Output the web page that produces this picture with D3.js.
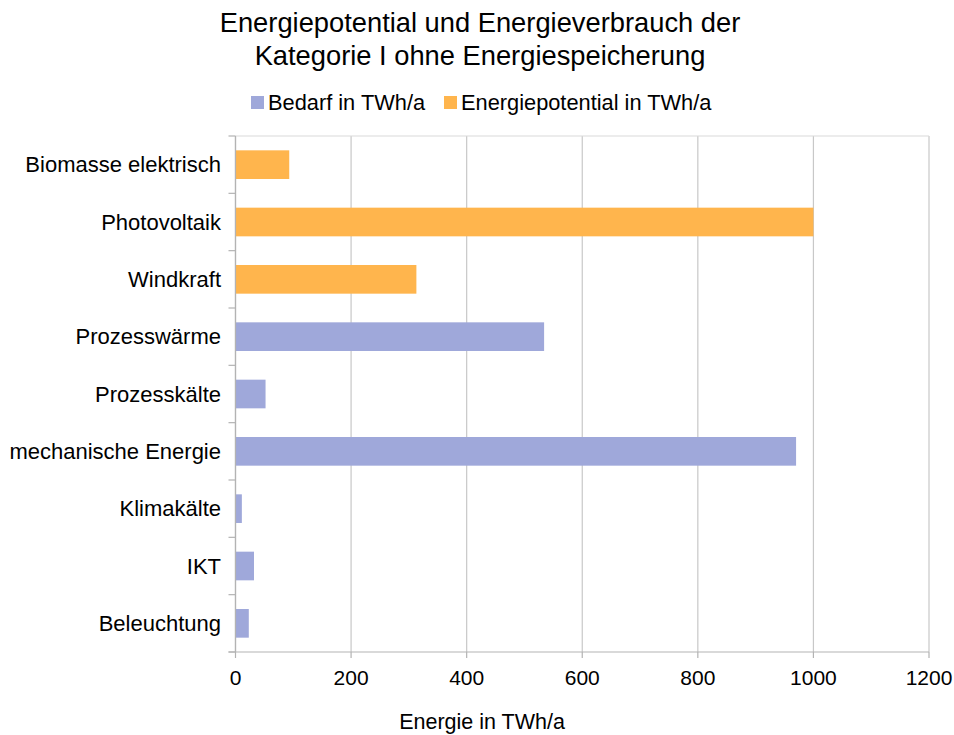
<!DOCTYPE html>
<html><head><meta charset="utf-8">
<script src="https://cdn.jsdelivr.net/npm/d3@7"></script>
<style>body{margin:0;background:#fff;} text{font-family:"Liberation Sans",Arial,sans-serif;fill:#000;}</style>
</head><body>
<svg id="c" width="954" height="735"></svg>
<script>
const categories = ["Biomasse elektrisch","Photovoltaik","Windkraft","Prozesswärme","Prozesskälte","mechanische Energie","Klimakälte","IKT","Beleuchtung"];
const bedarf = [0,0,0,534,52,970,11,32,23];
const potential = [93,1000,313,0,0,0,0,0,0];
const seriesNames = ["Bedarf in TWh/a","Energiepotential in TWh/a"];
const seriesColors = ["#9fa8da","#ffb54d"];
const xTicks = [0,200,400,600,800,1000,1200];
const titleLines = ["Energiepotential und Energieverbrauch der","Kategorie I ohne Energiespeicherung"];
const xTitle = "Energie in TWh/a";

const svg = d3.select("#c");
const m = {l:235.5, r:929, t:136, b:652};
const x = d3.scaleLinear().domain([0,1200]).range([m.l,m.r]);
const y = d3.scaleBand().domain(categories).range([m.t,m.b]).paddingInner(0.5).paddingOuter(0.25);
const band = d3.scaleBand().domain(categories).range([m.t,m.b]);

// title
svg.selectAll(".title").data(titleLines).join("text")
  .attr("x",480).attr("y",(d,i)=>32+i*33).attr("text-anchor","middle")
  .style("font-size","27.3px").text(d=>d);

// gridlines
svg.append("g").selectAll("line").data(xTicks).join("line")
  .attr("x1",d=>x(d)).attr("x2",d=>x(d)).attr("y1",m.t).attr("y2",m.b)
  .attr("stroke",(d,i)=>i===0?"#b3b3b3":"#c8c8c8").attr("stroke-width",1.2);
svg.append("line").attr("x1",m.l).attr("x2",m.r).attr("y1",m.t).attr("y2",m.t).attr("stroke","#d9d9d9").attr("stroke-width",1.2);

// bars
const data = categories.map((c,i)=>({c, vals:[bedarf[i],potential[i]]}));
data.forEach(d=>{
  let acc=0;
  d.vals.forEach((v,s)=>{
    if(v>0){
      svg.append("rect").attr("x",x(acc)).attr("width",x(acc+v)-x(acc))
        .attr("y",y(d.c)).attr("height",y.bandwidth()).attr("fill",seriesColors[s]);
    }
    acc+=v;
  });
});

// y axis
const ya = svg.append("g");
ya.append("line").attr("x1",m.l).attr("x2",m.l).attr("y1",m.t).attr("y2",m.b).attr("stroke","#b3b3b3").attr("stroke-width",1.2);
const bounds = categories.map(c=>band(c)).concat([m.b]);
ya.selectAll(".tk").data(bounds).join("line").attr("x1",m.l-7).attr("x2",m.l).attr("y1",d=>d).attr("y2",d=>d).attr("stroke","#b3b3b3").attr("stroke-width",1.2);
ya.selectAll("text").data(categories).join("text")
  .attr("x",221).attr("y",d=>band(d)+band.bandwidth()/2).attr("dy","0.35em")
  .attr("text-anchor","end").style("font-size","22px").text(d=>d);

// x axis
const xa = svg.append("g");
xa.append("line").attr("x1",m.l-7).attr("x2",m.r).attr("y1",m.b).attr("y2",m.b).attr("stroke","#b3b3b3").attr("stroke-width",1.2);
xa.selectAll(".tk").data(xTicks).join("line").attr("x1",d=>x(d)).attr("x2",d=>x(d)).attr("y1",m.b).attr("y2",m.b+6).attr("stroke","#b3b3b3").attr("stroke-width",1.2);
xa.selectAll("text").data(xTicks).join("text")
  .attr("x",d=>x(d)).attr("y",685).attr("text-anchor","middle").style("font-size","21px").text(d=>d);
svg.append("text").attr("x",482).attr("y",729).attr("text-anchor","middle").style("font-size","21.5px").text(xTitle);

// legend
const lg = svg.append("g");
const lx = [251,444];
seriesNames.forEach((n,i)=>{
  lg.append("rect").attr("x",lx[i]).attr("y",96).attr("width",13).attr("height",13).attr("fill",seriesColors[i]);
  lg.append("text").attr("x",lx[i]+17).attr("y",110).style("font-size","21.8px").text(n);
});
</script>
</body></html>
